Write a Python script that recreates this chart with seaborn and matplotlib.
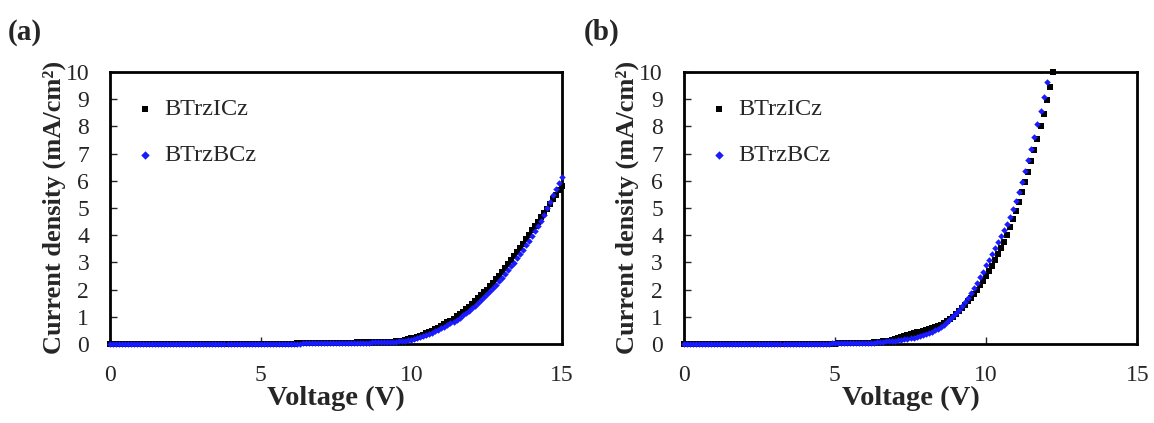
import numpy as np
import pandas as pd
import matplotlib
matplotlib.use("Agg")
import matplotlib.pyplot as plt
import seaborn as sns

# ---------------- data ----------------
# voltage sweep, 0.1 V step
volt_a = np.round(np.arange(0, 151) * 0.1, 1)          # 0.0 .. 15.0
volt_b_icz = np.round(np.arange(0, 123) * 0.1, 1)      # 0.0 .. 12.2
volt_b_bcz = np.round(np.arange(0, 121) * 0.1, 1)      # 0.0 .. 12.0

# panel (a) current density (mA/cm2)
j_a_icz = [
    0.00, 0.00, 0.00, 0.00, 0.00, 0.00, 0.00, 0.00, 0.00, 0.00,
    0.00, 0.00, 0.00, 0.00, 0.00, 0.00, 0.00, 0.00, 0.00, 0.00,
    0.00, 0.00, 0.00, 0.00, 0.00, 0.00, 0.00, 0.00, 0.00, 0.00,
    0.00, 0.00, 0.00, 0.00, 0.00, 0.00, 0.00, 0.00, 0.00, 0.00,
    0.00, 0.00, 0.00, 0.00, 0.00, 0.00, 0.00, 0.00, 0.00, 0.00,
    0.00, 0.00, 0.01, 0.01, 0.01, 0.01, 0.01, 0.01, 0.01, 0.01,
    0.01, 0.01, 0.02, 0.02, 0.02, 0.02, 0.02, 0.02, 0.03, 0.03,
    0.03, 0.03, 0.03, 0.04, 0.04, 0.04, 0.04, 0.05, 0.05, 0.05,
    0.05, 0.05, 0.06, 0.06, 0.06, 0.06, 0.07, 0.07, 0.07, 0.07,
    0.07, 0.07, 0.07, 0.08, 0.08, 0.09, 0.11, 0.12, 0.14, 0.17,
    0.20, 0.23, 0.26, 0.30, 0.34, 0.39, 0.43, 0.48, 0.54, 0.59,
    0.65, 0.72, 0.79, 0.86, 0.93, 1.01, 1.09, 1.18, 1.27, 1.36,
    1.46, 1.56, 1.67, 1.78, 1.89, 2.00, 2.12, 2.24, 2.37, 2.50,
    2.64, 2.78, 2.92, 3.07, 3.22, 3.37, 3.53, 3.69, 3.85, 4.01,
    4.17, 4.33, 4.49, 4.65, 4.81, 4.97, 5.14, 5.31, 5.48, 5.65,
    5.82,
]
j_a_bcz = [
    0.00, 0.00, 0.00, 0.00, 0.00, 0.00, 0.00, 0.00, 0.00, 0.00,
    0.00, 0.00, 0.00, 0.00, 0.00, 0.00, 0.00, 0.00, 0.00, 0.00,
    0.00, 0.00, 0.00, 0.00, 0.00, 0.00, 0.00, 0.00, 0.00, 0.00,
    0.00, 0.00, 0.00, 0.00, 0.00, 0.00, 0.00, 0.00, 0.00, 0.00,
    0.00, 0.00, 0.00, 0.00, 0.00, 0.00, 0.00, 0.00, 0.00, 0.00,
    0.00, 0.00, 0.01, 0.01, 0.01, 0.01, 0.01, 0.01, 0.01, 0.01,
    0.01, 0.01, 0.01, 0.01, 0.02, 0.02, 0.02, 0.02, 0.02, 0.02,
    0.02, 0.02, 0.03, 0.03, 0.03, 0.03, 0.03, 0.04, 0.04, 0.04,
    0.04, 0.04, 0.05, 0.05, 0.05, 0.05, 0.05, 0.06, 0.06, 0.06,
    0.06, 0.06, 0.06, 0.07, 0.07, 0.08, 0.09, 0.10, 0.12, 0.14,
    0.16, 0.19, 0.22, 0.25, 0.28, 0.32, 0.37, 0.41, 0.46, 0.51,
    0.57, 0.62, 0.69, 0.75, 0.82, 0.89, 0.97, 1.05, 1.13, 1.22,
    1.31, 1.41, 1.51, 1.61, 1.72, 1.83, 1.94, 2.06, 2.18, 2.30,
    2.43, 2.57, 2.71, 2.85, 2.99, 3.14, 3.30, 3.45, 3.62, 3.78,
    3.95, 4.15, 4.33, 4.52, 4.75, 4.98, 5.22, 5.46, 5.70, 5.93,
    6.15,
]

# panel (b) current density (mA/cm2)
j_b_icz = [
    0.00, 0.00, 0.00, 0.00, 0.00, 0.00, 0.00, 0.00, 0.00, 0.00,
    0.00, 0.00, 0.00, 0.00, 0.00, 0.00, 0.00, 0.00, 0.00, 0.00,
    0.00, 0.00, 0.00, 0.00, 0.00, 0.00, 0.00, 0.00, 0.00, 0.00,
    0.00, 0.00, 0.00, 0.00, 0.00, 0.00, 0.00, 0.00, 0.00, 0.00,
    0.00, 0.00, 0.00, 0.01, 0.01, 0.01, 0.01, 0.01, 0.01, 0.01,
    0.01, 0.02, 0.02, 0.02, 0.02, 0.03, 0.03, 0.03, 0.04, 0.04,
    0.04, 0.05, 0.05, 0.06, 0.07, 0.08, 0.09, 0.10, 0.12, 0.14,
    0.17, 0.20, 0.24, 0.28, 0.32, 0.36, 0.39, 0.42, 0.45, 0.47,
    0.50, 0.53, 0.57, 0.61, 0.66, 0.71, 0.77, 0.84, 0.91, 1.00,
    1.10, 1.21, 1.32, 1.44, 1.57, 1.70, 1.84, 1.99, 2.15, 2.32,
    2.50, 2.68, 2.88, 3.08, 3.30, 3.52, 3.76, 4.02, 4.30, 4.60,
    4.90, 5.23, 5.58, 5.95, 6.32, 6.72, 7.12, 7.55, 8.00, 8.45,
    8.95, 9.45, 10.00,
]
j_b_bcz = [
    0.00, 0.00, 0.00, 0.00, 0.00, 0.00, 0.00, 0.00, 0.00, 0.00,
    0.00, 0.00, 0.00, 0.00, 0.00, 0.00, 0.00, 0.00, 0.00, 0.00,
    0.00, 0.00, 0.00, 0.00, 0.00, 0.00, 0.00, 0.00, 0.00, 0.00,
    0.00, 0.00, 0.00, 0.00, 0.00, 0.00, 0.00, 0.00, 0.00, 0.00,
    0.00, 0.00, 0.01, 0.01, 0.01, 0.01, 0.01, 0.01, 0.01, 0.02,
    0.02, 0.02, 0.02, 0.02, 0.03, 0.03, 0.03, 0.03, 0.04, 0.04,
    0.04, 0.04, 0.05, 0.05, 0.06, 0.07, 0.08, 0.09, 0.10, 0.11,
    0.12, 0.13, 0.15, 0.17, 0.19, 0.21, 0.23, 0.26, 0.29, 0.32,
    0.36, 0.40, 0.45, 0.50, 0.56, 0.63, 0.71, 0.80, 0.90, 1.01,
    1.13, 1.26, 1.40, 1.55, 1.70, 1.87, 2.05, 2.25, 2.45, 2.66,
    2.89, 3.09, 3.30, 3.51, 3.73, 3.95, 4.18, 4.42, 4.67, 4.95,
    5.25, 5.60, 5.97, 6.35, 6.75, 7.17, 7.62, 8.08, 8.57, 9.08,
    9.62,
]

series_names = ["BTrzICz", "BTrzBCz"]
panel_labels = ["(a)", "(b)"]
x_ticks = [0, 5, 10, 15]
y_ticks = list(range(0, 11))
x_label = "Voltage (V)"
y_label = "Current density (mA/cm²)"

# ---------------- style ----------------
sns.set_theme(style="ticks")
plt.rcParams["font.family"] = ["Liberation Serif", "DejaVu Serif"]

def frame(volts, vals, name):
    return pd.DataFrame({"V": volts, "J": vals, "series": name})

df_a = pd.concat([frame(volt_a, j_a_icz, series_names[0]),
                  frame(volt_a, j_a_bcz, series_names[1])], ignore_index=True)
df_b = pd.concat([frame(volt_b_icz, j_b_icz, series_names[0]),
                  frame(volt_b_bcz, j_b_bcz, series_names[1])], ignore_index=True)

fig = plt.figure(figsize=(11.54, 4.23), dpi=100)
ax_a = fig.add_axes([0.0953, 0.187, 0.3917, 0.643])
ax_b = fig.add_axes([0.5925, 0.187, 0.3930, 0.643])

palette = {series_names[0]: "black", series_names[1]: "#1a1aff"}
markers = {series_names[0]: "s", series_names[1]: "D"}
sizes = {series_names[0]: 13, series_names[1]: 11}

for ax, df, lab, lab_x in [(ax_a, df_a, panel_labels[0], 8 / 1154),
                           (ax_b, df_b, panel_labels[1], 584 / 1154)]:
    for name in series_names:
        sub = df[df["series"] == name]
        sns.scatterplot(data=sub, x="V", y="J", ax=ax, color=palette[name],
                        marker=markers[name], s=sizes[name], linewidth=0,
                        label=name, clip_on=False,
                        zorder=3 if name == series_names[1] else 2)
    ax.set_xlim(0, 15)
    ax.set_ylim(0, 10)
    ax.set_xticks(x_ticks)
    ax.set_yticks(y_ticks)
    ax.tick_params(direction="in", length=5, width=1, labelsize=17,
                   top=False, right=False)
    ax.tick_params(axis="y", pad=15)
    ax.tick_params(axis="x", pad=15)
    for sp in ax.spines.values():
        sp.set_linewidth(2.0)
        sp.set_color("black")
        sp.set_visible(True)
    ax.set_xlabel(x_label, fontsize=20.5, fontweight="bold", labelpad=0)
    ax.set_ylabel(y_label, fontsize=19, fontweight="bold", labelpad=0)
    ax.legend(loc="upper left", bbox_to_anchor=(0.04, 0.94), frameon=False,
              fontsize=17.5, handlelength=0.6, handletextpad=0.5,
              labelspacing=1.0, markerscale=1.3, borderaxespad=0)
    fig.text(lab_x, 1 - 40 / 423, lab, fontsize=21, fontweight="bold",
             ha="left", va="baseline")

fig.savefig("out.png", dpi=100)
